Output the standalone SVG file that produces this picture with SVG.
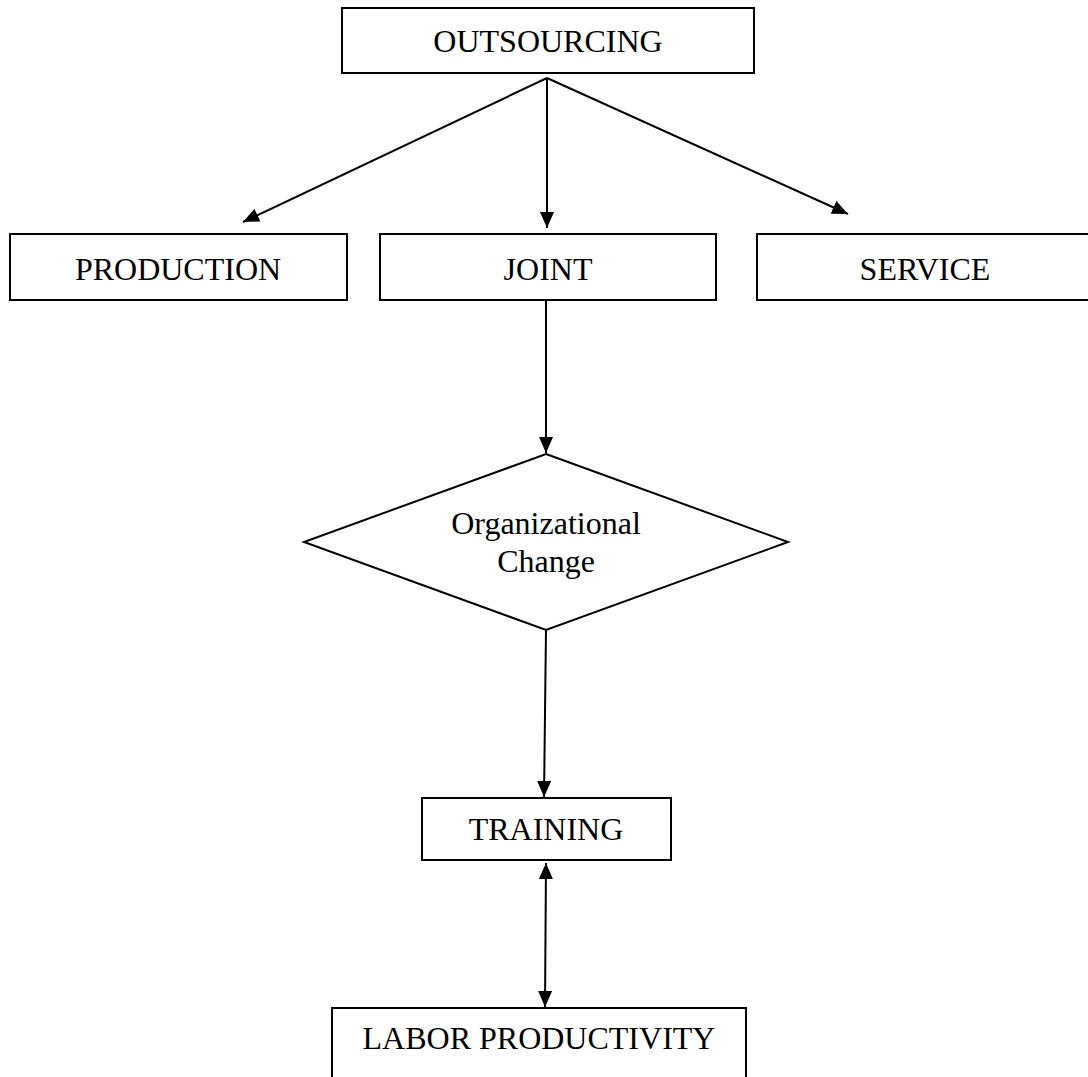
<svg xmlns="http://www.w3.org/2000/svg" width="1088" height="1077" viewBox="0 0 1088 1077">
<style>
.box{fill:#fff;stroke:#000;stroke-width:2}
.lbl{font-family:"Liberation Serif","Times New Roman",serif;font-size:32px;fill:#000;text-anchor:middle}
.edge{fill:none;stroke:#000;stroke-width:2}
</style>
<defs>
<marker id="ah" viewBox="0 0 16 14" refX="16" refY="7" markerWidth="16" markerHeight="14" markerUnits="userSpaceOnUse" orient="auto-start-reverse">
<path d="M0,0 L16,7 L0,14 Z" fill="#000"/>
</marker>
</defs>
<rect width="1088" height="1077" fill="#fff"/>
<g id="outsourcing"><rect class="box" x="342" y="8" width="412" height="65"/><text class="lbl" x="548" y="52">OUTSOURCING</text></g>
<g id="production"><rect class="box" x="10" y="234" width="337" height="66"/><text class="lbl" x="178" y="280">PRODUCTION</text></g>
<g id="joint"><rect class="box" x="380" y="234" width="336" height="66"/><text class="lbl" x="548" y="280">JOINT</text></g>
<g id="service"><rect class="box" x="757" y="234" width="340" height="66"/><text class="lbl" x="925" y="280">SERVICE</text></g>
<g id="organizational-change"><polygon class="box" points="546,454 788,542 546,630 304,542"/><text class="lbl" x="546" y="534">Organizational</text><text class="lbl" x="546" y="572">Change</text></g>
<g id="training"><rect class="box" x="422" y="798" width="249" height="62"/><text class="lbl" x="546" y="840">TRAINING</text></g>
<g id="labor-productivity"><rect class="box" x="332" y="1008" width="414" height="90"/><text class="lbl" x="539" y="1049">LABOR PRODUCTIVITY</text></g>
<g id="connectors">
<line class="edge" x1="547" y1="78" x2="243" y2="222" marker-end="url(#ah)"/>
<line class="edge" x1="547" y1="78" x2="547" y2="228" marker-end="url(#ah)"/>
<line class="edge" x1="547" y1="78" x2="848" y2="214" marker-end="url(#ah)"/>
<line class="edge" x1="546" y1="300" x2="546" y2="453" marker-end="url(#ah)"/>
<line class="edge" x1="546" y1="630" x2="544" y2="797" marker-end="url(#ah)"/>
<line class="edge" x1="546" y1="863" x2="545" y2="1007" marker-start="url(#ah)" marker-end="url(#ah)"/>
</g>
</svg>
